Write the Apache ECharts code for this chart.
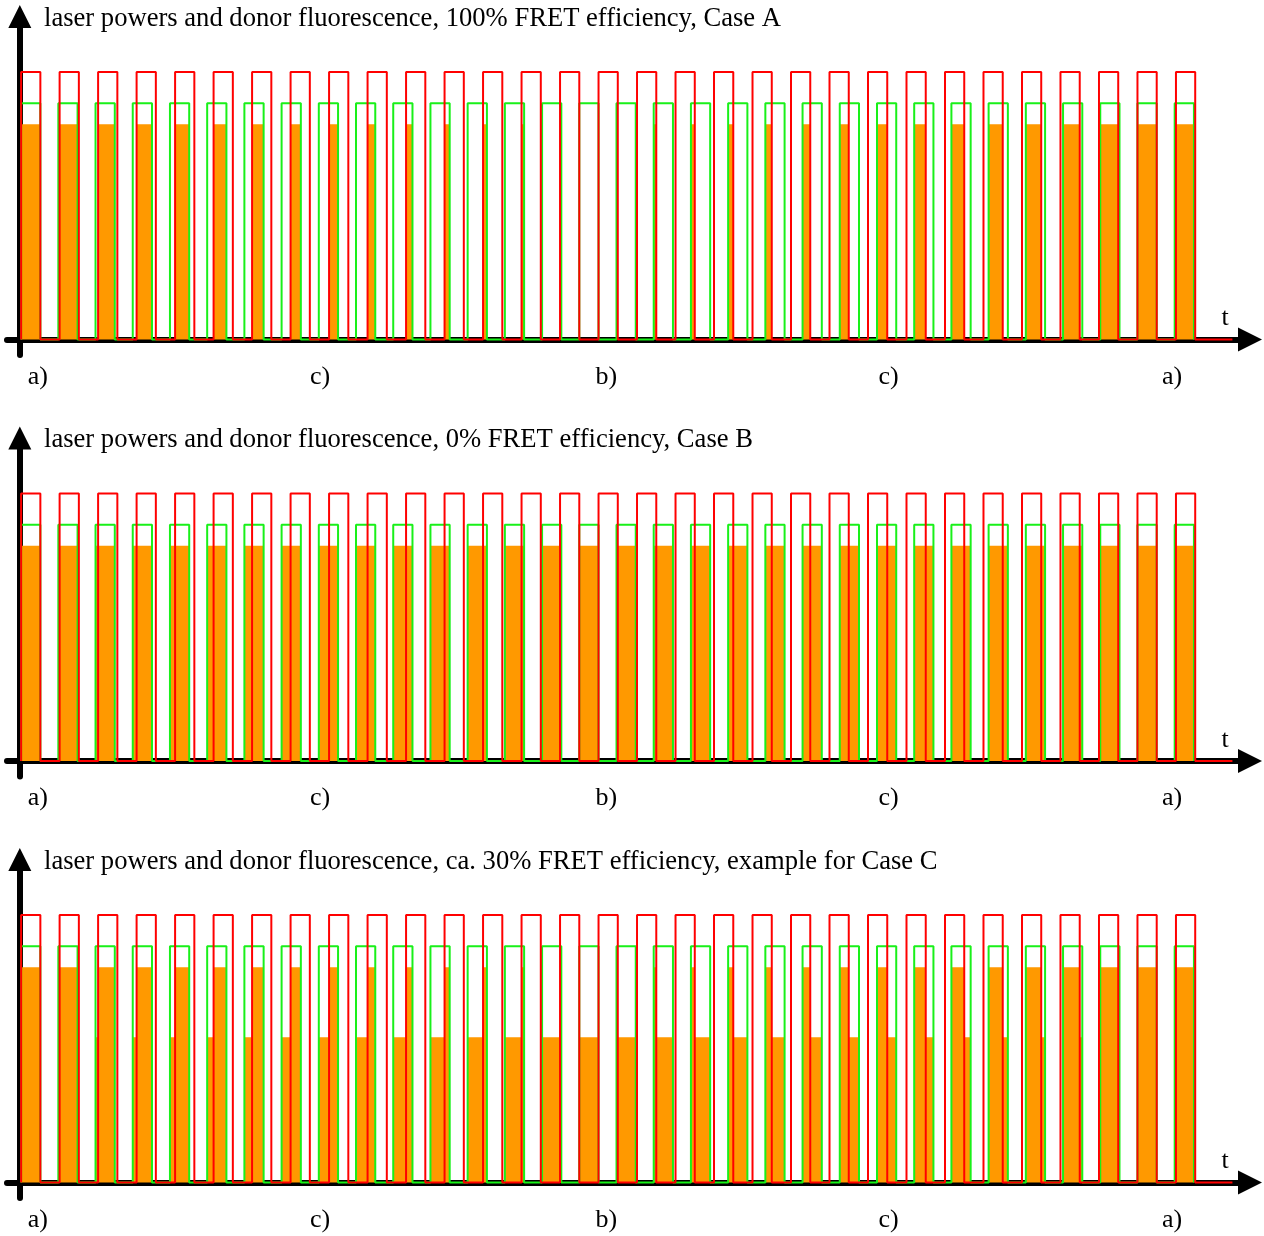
<!DOCTYPE html>
<html><head><meta charset="utf-8">
<script src="https://cdn.jsdelivr.net/npm/echarts@6/dist/echarts.min.js"></script>
<style>html,body{margin:0;padding:0;background:#fff}#c{width:1264px;height:1236px}</style>
</head><body><div id="c"></div>
<script>
// ---- data ----
const panelTitles = [
  'laser powers and donor fluorescence, 100% FRET efficiency, Case A',
  'laser powers and donor fluorescence, 0% FRET efficiency, Case B',
  'laser powers and donor fluorescence, ca. 30% FRET efficiency, example for Case C'
];
// pulse start times (arbitrary time units)
const redStarts = [1,31,61,91,121,151,181,211,241,271,301,331,361,391,421,451,481,511,541,571,601,631,661,691,721,751,781,811,841,871,901];
const greenStarts = [1,30,59,88,117,146,175,204,233,262,291,320,349,378,407,436,465,494,523,552,581,610,639,668,697,726,755,784,813,842,871,900];
const pulseWidth = 15;
const redLineEnd = 945;
const redLevel = 1.0;
const greenLevel = 0.883;
const donorFullLevel = 0.805;                 // donor signal while red laser is on
const donorGreenOnlyLevels = [0, 0.805, 0.543]; // donor signal with green only: Case A, B, C
const phaseLabels = ['a)', 'c)', 'b)', 'c)', 'a)'];
const phaseTimes = [14, 234, 457, 677, 898];
const timeLabel = 't';

// ---- build ----
const SERIF = '"Liberation Serif","Times New Roman",serif';
const panelOffsets = [0, 421.5, 843];
const X_MIN = -10, X_MAX = 958.7, Y_MIN = -0.058, Y_MAX = 1.2075;

function pulseLine(starts, level, endX) {
  const pts = [];
  starts.forEach(s => {
    pts.push([s, 0], [s, level], [s + pulseWidth, level], [s + pulseWidth, 0]);
  });
  if (endX != null) pts.push([endX, 0]);
  return pts;
}
function donorItems(low) {
  const items = [];
  greenStarts.forEach(g => {
    const g1 = g + pulseWidth;
    let lo = null, hi = null;
    redStarts.forEach(r => {
      const a = Math.max(g, r), b = Math.min(g1, r + pulseWidth);
      if (b > a) { lo = a; hi = b; }
    });
    if (lo === null) {
      if (low > 0) items.push([g, g1, g, g1, low, low]);
    } else {
      items.push([g, g1, lo, hi, low, donorFullLevel]);
    }
  });
  return items;
}

const grids = [], xAxes = [], yAxes = [], series = [], titles = [];
panelOffsets.forEach((off, i) => {
  grids.push({left: 7, width: 1243, top: off + 16.5, height: 338.5, containLabel: false, outerBoundsMode: 'none'});
  titles.push({
    text: panelTitles[i], left: 39, top: off + 0.5,
    textStyle: {fontFamily: SERIF, fontSize: 26.6, fontWeight: 'normal', color: '#000'}
  });
  xAxes.push({
    gridIndex: i, type: 'value', min: X_MIN, max: X_MAX,
    axisLine: {show: true, onZero: true, symbol: ['none', 'triangle'], symbolSize: [24, 24],
      lineStyle: {color: '#000', width: 6}},
    axisTick: {show: false}, splitLine: {show: false},
    axisLabel: {
      customValues: phaseTimes,
      formatter: v => { const k = phaseTimes.indexOf(v); return k >= 0 ? phaseLabels[k] : ''; },
      fontFamily: SERIF, fontSize: 26, color: '#000', margin: 9
    },
    name: timeLabel, nameLocation: 'end', nameGap: -25,
    nameTextStyle: {fontFamily: SERIF, fontSize: 26, color: '#000', align: 'center', verticalAlign: 'bottom', padding: [0, 0, 8, 0]}
  });
  yAxes.push({
    gridIndex: i, type: 'value', min: Y_MIN, max: Y_MAX,
    axisLine: {show: true, onZero: true, symbol: ['none', 'triangle'], symbolSize: [23, 23],
      lineStyle: {color: '#000', width: 6}},
    axisTick: {show: false}, axisLabel: {show: false}, splitLine: {show: false}
  });
  series.push({
    type: 'custom', xAxisIndex: i, yAxisIndex: i, z: 2,
    encode: {x: [0, 1, 2, 3], y: [4, 5]},
    data: donorItems(donorGreenOnlyLevels[i]),
    renderItem: (params, api) => {
      const g0 = api.value(0), g1 = api.value(1), lo = api.value(2), hi = api.value(3);
      const low = api.value(4), full = api.value(5);
      const raw = (lo === g0 && hi === g1)
        ? [[g0, 0], [g0, full], [g1, full], [g1, 0]]
        : [[g0, 0], [g0, low], [lo, low], [lo, full], [hi, full], [hi, low], [g1, low], [g1, 0]];
      return {type: 'polygon', shape: {points: raw.map(p => api.coord(p))}, style: {fill: '#ff9900'}};
    }
  });
  series.push({
    type: 'line', xAxisIndex: i, yAxisIndex: i, z: 3, symbol: 'none', animation: false,
    data: pulseLine(greenStarts, greenLevel, null),
    lineStyle: {color: '#19f019', width: 2}
  });
  series.push({
    type: 'line', xAxisIndex: i, yAxisIndex: i, z: 4, symbol: 'none', animation: false,
    data: pulseLine(redStarts, redLevel, redLineEnd),
    lineStyle: {color: '#ff0000', width: 2}
  });
});

const chart = echarts.init(document.getElementById('c'), null, {renderer: 'canvas'});
chart.setOption({
  animation: false, backgroundColor: '#fff',
  title: titles, grid: grids, xAxis: xAxes, yAxis: yAxes, series: series
});
</script></body></html>
